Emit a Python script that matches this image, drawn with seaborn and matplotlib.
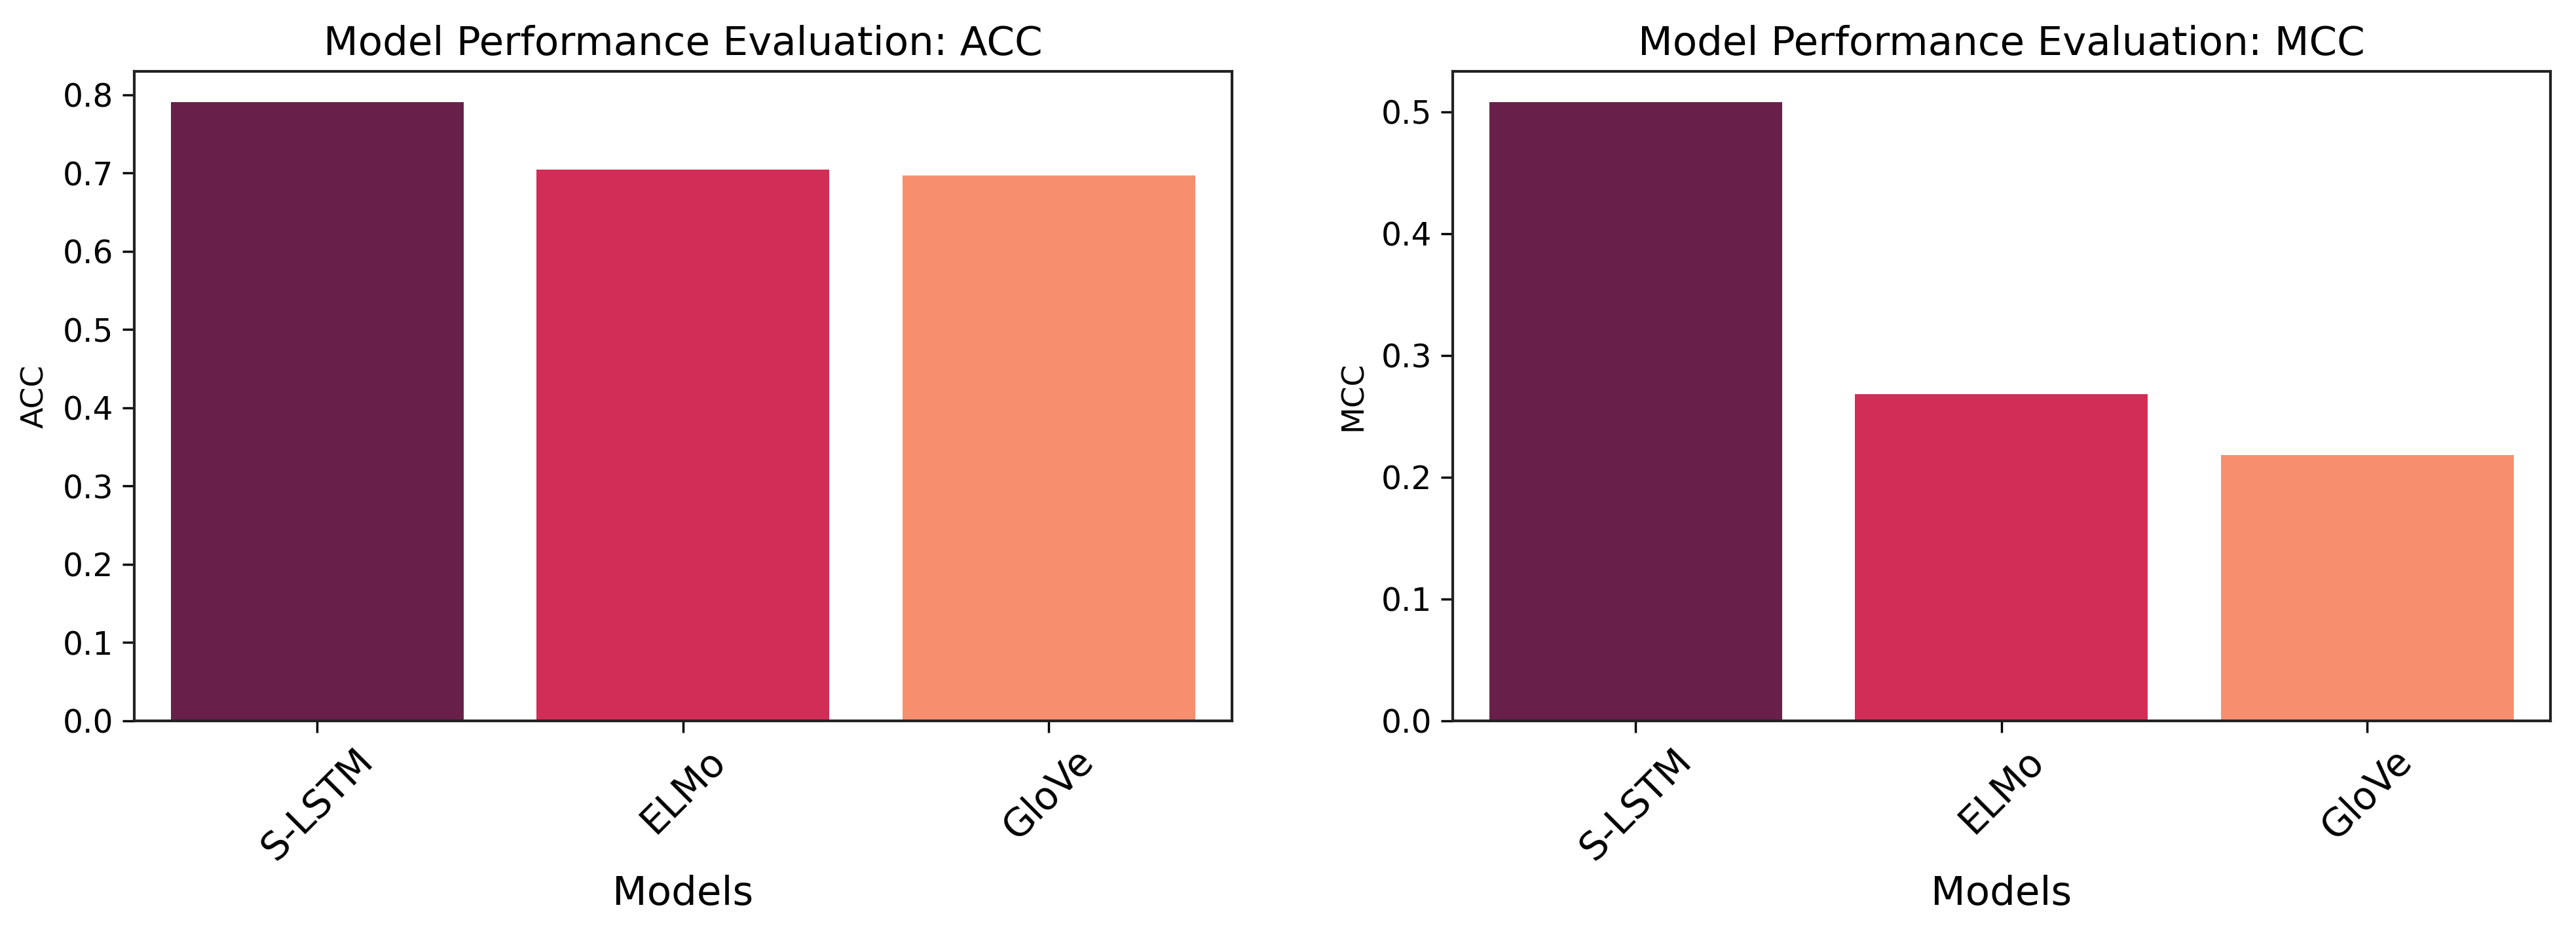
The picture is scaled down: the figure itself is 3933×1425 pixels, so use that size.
import pandas as pd
import matplotlib
matplotlib.use('Agg')
import matplotlib.pyplot as plt
import seaborn as sns

# Données
models = ['S-LSTM', 'ELMo', 'GloVe']
acc_values = [0.7905, 0.7045, 0.697]
mcc_values = [0.508, 0.2685, 0.2185]

# Couleurs (proches de la palette 'rocket')
bar_colors = ['#68204b', '#d12d56', '#f78f6f']

df = pd.DataFrame({'Models': models, 'ACC': acc_values, 'MCC': mcc_values})

plt.rcParams['font.family'] = ['DejaVu Sans']

fig = plt.figure(figsize=(39.33, 14.25), dpi=100)
ax_acc = fig.add_axes([0.0521, 0.2274, 0.4261, 0.6962])
ax_mcc = fig.add_axes([0.5639, 0.2274, 0.4261, 0.6962])

for ax, metric in [(ax_acc, 'ACC'), (ax_mcc, 'MCC')]:
    sns.barplot(data=df, x='Models', y=metric, hue='Models', palette=bar_colors,
                saturation=1, dodge=False, legend=False, ax=ax)
    ax.set_title(f'Model Performance Evaluation: {metric}', fontsize=44, pad=18)
    ax.set_xlabel('Models', fontsize=44, labelpad=8)
    ax.set_ylabel(metric, fontsize=34, labelpad=14)
    ax.tick_params(axis='x', labelsize=42, rotation=45, length=13, width=2.5, pad=10)
    ax.tick_params(axis='y', labelsize=35, length=13, width=2.5, pad=10)
    for sp in ax.spines.values():
        sp.set_linewidth(3)
        sp.set_color('#222222')

fig.savefig('out.png', dpi=100)
plt.close()
